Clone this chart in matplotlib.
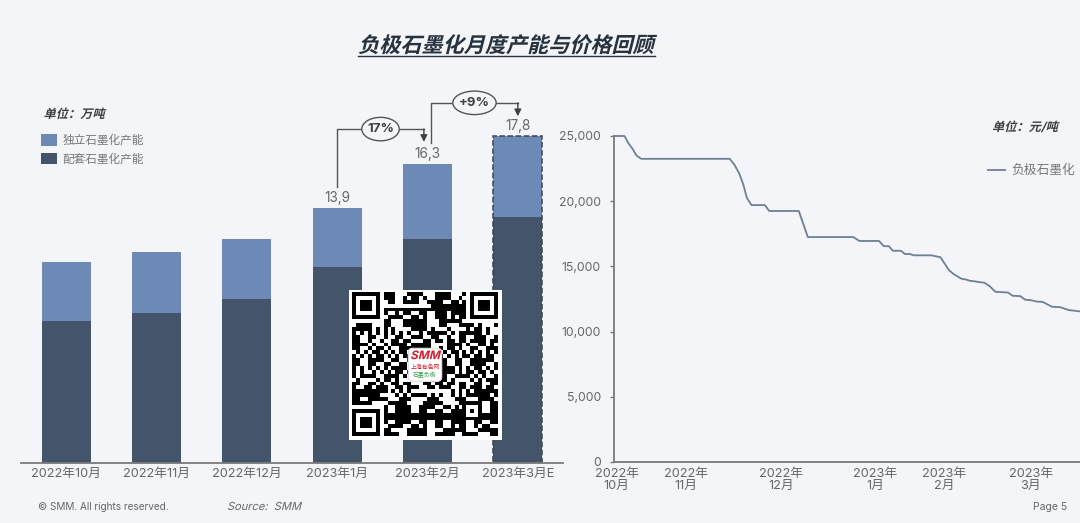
import matplotlib
matplotlib.use('Agg')
import numpy as np
import matplotlib.pyplot as plt
from matplotlib.patches import Ellipse, FancyBboxPatch
from matplotlib.patheffects import AbstractPathEffect
from matplotlib.transforms import Affine2D

# ── Data ──────
months = ['2022年10月', '2022年11月', '2022年12月', '2023年1月', '2023年2月', '2023年3月E']
dark_vals = [7.75, 8.2, 8.95, 10.7, 12.2, 13.4]     # 配套石墨化产能
total_vals = [10.95, 11.5, 12.2, 13.9, 16.3, 17.8]
shown_labels = {3: '13,9', 4: '16,3', 5: '17,8'}

price_days = [0, 2.4, 3.3, 4.3, 5.2, 6.3, 26.9, 28, 29.1, 30.1, 30.9, 32, 35.1, 36.1, 43, 45.1,
              55.7, 57.1, 61.7, 62.8, 64, 64.9, 66.8, 67.7, 68.9, 69.7, 73.9, 76, 78, 79.1,
              80.9, 81.9, 82.8, 84.1, 84.9, 86.2, 87.4, 88.8, 91.7, 92.8, 94.6, 95.7, 97.2,
              98.4, 99.8, 102, 103.8, 105.9, 108.5]
price_vals = [25000, 25000, 24450, 24000, 23500, 23250, 23250, 22800, 22150, 21250, 20250, 19700,
              19700, 19250, 19250, 17250, 17250, 16950, 16950, 16550, 16550, 16200, 16200, 15950,
              15950, 15850, 15850, 15700, 14700, 14400, 14050, 14000, 13900, 13850, 13800, 13750,
              13500, 13050, 13000, 12750, 12720, 12450, 12400, 12300, 12280, 11900, 11880, 11650,
              11550]
price_ticks = [0.6, 16.7, 38.8, 60.8, 76.8, 97]
price_tick_labels = ['2022年\n10月', '2022年\n11月', '2022年\n12月', '2023年\n1月', '2023年\n2月', '2023年\n3月']

BG = '#F4F5F8'
LIGHT = '#6C8AB5'
DARK = '#44546A'
GREY = '#666666'
W, H = 1080, 523

plt.rcParams['font.family'] = ['Inter', 'Noto Sans CJK SC', 'DejaVu Sans']


class Slant(AbstractPathEffect):
    # fake italic, the CJK fonts have no oblique cut
    def __init__(self, deg=14):
        self.deg = deg

    def draw_path(self, renderer, gc, tpath, affine, rgbFace=None):
        renderer.draw_path(gc, tpath, Affine2D().skew_deg(self.deg, 0) + affine, rgbFace)


def px_rect(left, top, right, bottom):
    return [left / W, 1 - bottom / H, (right - left) / W, (bottom - top) / H]


def px_text(x, y, s, **kw):
    return fig.text(x / W, 1 - y / H, s, va='center', **kw)


fig = plt.figure(figsize=(W / 100, H / 100), dpi=100, facecolor=BG)

# ── Left: stacked capacity bars ──────
ax1 = fig.add_axes(px_rect(21, 90, 563, 463), facecolor='none')
x = np.arange(len(months))
light_vals = [t - d for t, d in zip(total_vals, dark_vals)]
ax1.bar(x, light_vals, 0.54, bottom=dark_vals, color=LIGHT, label='独立石墨化产能')
ax1.bar(x, dark_vals, 0.54, color=DARK, label='配套石墨化产能')
ax1.bar(x[-1], total_vals[-1], 0.54, fill=False, edgecolor='#3A4656', linestyle='--', linewidth=1.1)
ax1.set_xlim(-0.5, 5.5)
ax1.set_ylim(0, 20.33)
ax1.set_xticks(x, months)
ax1.set_yticks([])
ax1.tick_params(axis='x', length=0, pad=3.5, labelsize=9.2, labelcolor=GREY)
for side in ['top', 'left', 'right']:
    ax1.spines[side].set_visible(False)
ax1.spines['bottom'].set_color('#7A7A7A')
ax1.spines['bottom'].set_linewidth(1.3)

for i, s in shown_labels.items():
    ax1.text(i, total_vals[i] + 0.55, s, ha='center', va='center', fontsize=9.8, color=GREY)


def growth_arrow(x0, x1, y0, ytop, y1, label, width):
    ax1.plot([x0, x0, x1], [y0, ytop, ytop], color='#555555', lw=1, clip_on=False)
    ax1.annotate('', xy=(x1, y1), xytext=(x1, ytop),
                 arrowprops=dict(arrowstyle='-|>', color='#404040', lw=1, shrinkA=0, shrinkB=0, mutation_scale=10))
    xm = (x0 + x1) / 2
    ax1.add_patch(Ellipse((xm, ytop), width, 1.28, facecolor=BG, edgecolor='#555555', lw=1, zorder=3))
    ax1.text(xm, ytop, label, ha='center', va='center', fontsize=9.5, fontweight='bold', color='#404040', zorder=4)


growth_arrow(3, 3.96, 15.05, 18.2, 17.5, '17%', 0.415)
growth_arrow(4.04, 5, 17.45, 19.63, 18.9, '+9%', 0.48)

ax1.legend(loc='upper left', bbox_to_anchor=(40.7 / W, 1 - 134 / H), bbox_transform=fig.transFigure,
           frameon=False, prop={'size': 8.4}, labelcolor='#777777', borderpad=0, borderaxespad=0,
           handlelength=1.4, handleheight=1.17, handletextpad=0.47, labelspacing=0.5)

# ── Right: price line ──────
ax2 = fig.add_axes(px_rect(614.2, 136, 1080, 462), facecolor='none')
ax2.plot(price_days, price_vals, color='#6F7F95', lw=1.3, clip_on=False, label='负极石墨化')
ax2.set_xlim(0, 108.5)
ax2.set_ylim(0, 25000)
ax2.set_yticks(range(0, 25001, 5000))
ax2.yaxis.set_major_formatter(lambda v, _: f'{int(v):,}')
ax2.set_xticks(price_ticks, price_tick_labels)
ax2.tick_params(axis='y', length=3, width=1, color='#7A7A7A', labelsize=8.8, labelcolor=GREY, pad=6.5)
ax2.tick_params(axis='x', length=0, pad=4, labelsize=9.2, labelcolor=GREY)
for lab in ax2.get_xticklabels():
    lab.set_linespacing(1.05)
for side in ['top', 'right']:
    ax2.spines[side].set_visible(False)
for side in ['left', 'bottom']:
    ax2.spines[side].set_color('#7A7A7A')
    ax2.spines[side].set_linewidth(1.3)
ax2.legend(loc='center left', bbox_to_anchor=(988 / W, 1 - 171 / H), bbox_transform=fig.transFigure,
           frameon=False, prop={'size': 9.2}, labelcolor='#777777', borderpad=0, borderaxespad=0,
           handlelength=1.35, handletextpad=0.5)

# ── Text around the charts ──────
title = px_text(506, 46, '负极石墨化月度产能与价格回顾', ha='center', fontsize=15.2, fontweight='bold', color='#27323F')
title.set_path_effects([Slant()])
fig.add_artist(plt.Line2D([358 / W, 655 / W], [1 - 55.5 / H] * 2, color='#27323F', lw=1))
for tx, ty, s in [(43.5, 115, '单位：万吨'), (992, 128, '单位：元/吨')]:
    t = px_text(tx, ty, s, fontsize=8.8, fontweight='bold', color='#404040')
    t.set_path_effects([Slant()])
px_text(38, 507, '© SMM. All rights reserved.', fontsize=7.2, color=GREY)
t = px_text(227, 507, 'Source:  SMM', fontsize=8, color=GREY)
t.set_path_effects([Slant()])
px_text(1033, 507, 'Page 5', fontsize=7.5, color=GREY)

# ── QR block ──────
n = 37
ii, jj = np.mgrid[0:n, 0:n]
qr = ((ii * ii * 3 + jj * 7 + ii * jj * 5 + (ii ^ jj)) % 7) < 4
for r, c in [(0, 0), (0, n - 7), (n - 7, 0)]:
    qr[max(r - 1, 0):r + 8, max(c - 1, 0):c + 8] = False
    qr[r:r + 7, c:c + 7] = True
    qr[r + 1:r + 6, c + 1:c + 6] = False
    qr[r + 2:r + 5, c + 2:c + 5] = True
qr[28:33, 28:33] = True
qr[29:32, 29:32] = False
qr[30, 30] = True
ax3 = fig.add_axes(px_rect(348.5, 289.5, 501.5, 440), facecolor='white', zorder=5)
ax3.imshow(~qr, cmap='gray', vmin=0, vmax=1, extent=(0, 1, 0, 1), aspect='auto', interpolation='nearest')
ax3.set_xlim(-0.025, 1.025)
ax3.set_ylim(-0.025, 1.025)
ax3.set_xticks([])
ax3.set_yticks([])
for side in ax3.spines.values():
    side.set_visible(False)
ax3.add_patch(FancyBboxPatch((0.385, 0.385), 0.23, 0.23, boxstyle='round,pad=0,rounding_size=0.03',
                             facecolor='white', edgecolor='#DDDDDD', lw=0.8, zorder=3))
logo = ax3.text(0.5, 0.56, 'SMM', ha='center', va='center', fontsize=8.5, fontweight='bold', color='#D0202E', zorder=4)
logo.set_path_effects([Slant()])
ax3.text(0.5, 0.485, '上海有色网', ha='center', va='center', fontsize=4.2, color='#D0202E', zorder=4)
ax3.text(0.5, 0.43, '石墨负极', ha='center', va='center', fontsize=4.2, color='#3FA34D', zorder=4)

fig.savefig('out.png', dpi=100, facecolor=BG)
